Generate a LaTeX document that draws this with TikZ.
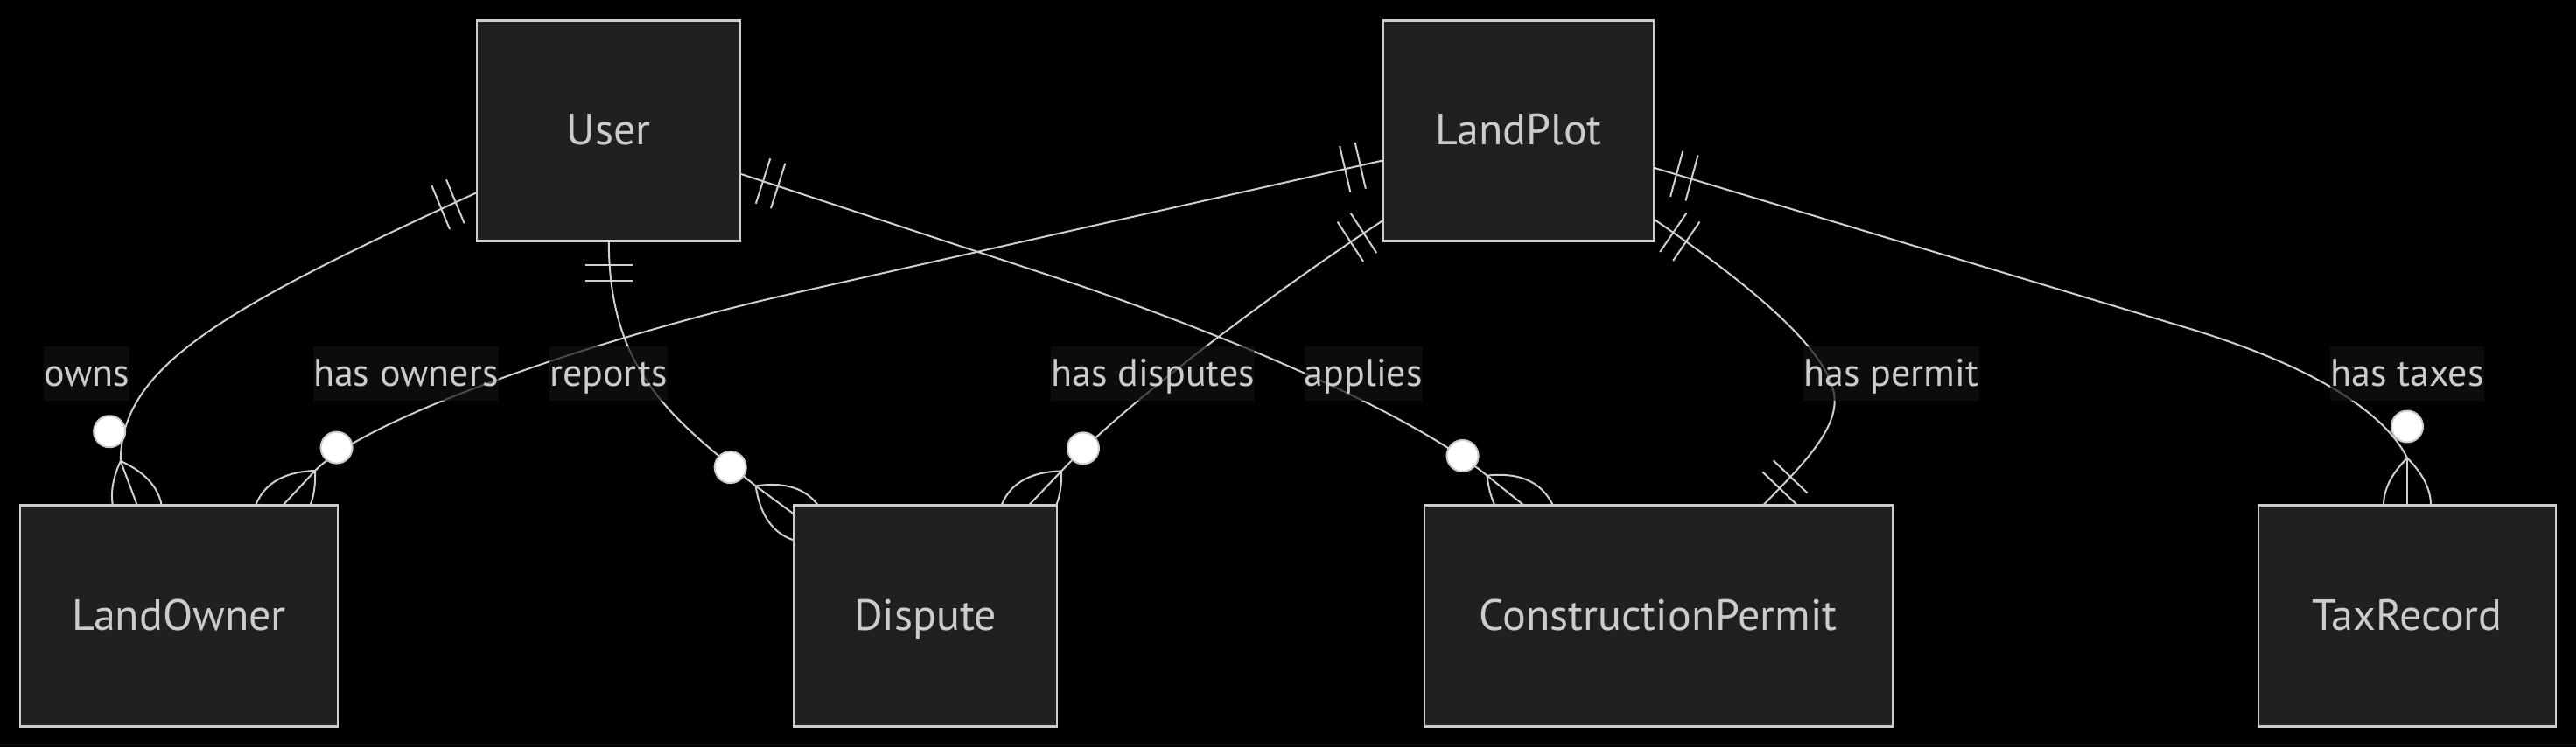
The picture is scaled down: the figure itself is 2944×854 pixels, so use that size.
\documentclass[tikz,border=0pt]{standalone}
\usepackage{fontspec}
\setmainfont{PT Sans}
\usetikzlibrary{calc}
\definecolor{nodefill}{HTML}{1F2020}
\definecolor{nodeborder}{HTML}{CCCCCC}
\definecolor{txt}{HTML}{CCCCCC}
\definecolor{linec}{HTML}{D0D0D0}
\definecolor{lblbg}{HTML}{121212}
\pgfdeclarelayer{bg}
\pgfsetlayers{bg,main}
\tikzset{
  entity/.style={draw=nodeborder, fill=nodefill, line width=2.2pt, text=txt,
    font=\fontsize{50}{60}\selectfont, inner sep=0pt, outer sep=0pt,
    text height=40pt, text depth=8pt},
  rel/.style={fill=lblbg, fill opacity=0.7, text opacity=1, text=txt,
    font=\fontsize{44}{53}\selectfont, inner sep=0pt, minimum height=62pt,
    text height=36pt, text depth=8pt},
  edgeline/.style={draw=linec, line width=2pt},
  zmdot/.style={draw=nodeborder, fill=white, line width=2pt},
  zeromany/.pic={
    \draw[edgeline] (54,0) -- (0,0);
    \draw[edgeline] (54,0) .. controls (18,36) and (-18,36) .. (-54,0);
    \draw[edgeline] (54,0) .. controls (18,-36) and (-18,-36) .. (-54,0);
    \draw[zmdot] (90,0) circle[radius=18pt];
  },
  exactlyone/.pic={
    \draw[edgeline] (27,-27) -- (27,27) (45,-27) -- (45,27);
  },
}
\newcommand\zmAt[2]{\path let \p1=($(#2)-(#1)$), \n1={atan2(\y1,\x1)} in pic[rotate=\n1] at (#1) {zeromany};}
\newcommand\ooAt[2]{\path let \p1=($(#2)-(#1)$), \n1={atan2(\y1,\x1)} in pic[rotate=\n1] at (#1) {exactlyone};}
\begin{document}
\begin{tikzpicture}[x=1pt,y=-1pt]
\useasboundingbox (0,0) rectangle (2944,854);
% entities
\node[entity, minimum width=301pt, minimum height=252pt] (user) at (695.8,149.5) {User};
\node[entity, minimum width=309pt, minimum height=252pt] (landplot) at (1735.6,149.5) {LandPlot};
\node[entity, minimum width=363pt, minimum height=253pt] (landowner) at (204.4,704) {LandOwner};
\node[entity, minimum width=301pt, minimum height=253pt] (dispute) at (1057.6,704) {Dispute};
\node[entity, minimum width=535pt, minimum height=253pt] (permit) at (1895.1,704) {ConstructionPermit};
\node[entity, minimum width=340pt, minimum height=253pt] (tax) at (2751,704) {TaxRecord};
% relationship labels
\node[rel, minimum width=93pt] (lowns) at (99.1,427) {owns};
\node[rel, minimum width=207pt] (lhasowners) at (463.8,427) {has owners};
\node[rel, minimum width=135pt] (lreports) at (695.5,427) {reports};
\node[rel, minimum width=231pt] (lhasdisputes) at (1317.7,427) {has disputes};
\node[rel, minimum width=132pt] (lapplies) at (1558.2,427) {applies};
\node[rel, minimum width=201pt] (lhaspermit) at (2161.1,427) {has permit};
\node[rel, minimum width=174pt] (lhastaxes) at (2750.8,427) {has taxes};
\begin{pgfonlayer}{bg}
\fill[black] (0,0) rectangle (2944,854);
% E1 User -> LandOwner (owns)
\coordinate (S1) at ($(user.west)+(0,70.5)$);
\coordinate (S1d) at ($(S1)+(-92.4,38.1)$);
\coordinate (P1) at ($(landowner.north west)+(133.9,0)$);
\coordinate (P1d) at ($(P1)+(-35.2,-93.7)$);
\coordinate (A1) at ($(P1)!54pt!(P1d)$);
\draw[edgeline] (S1) .. controls (250,355) and (138.5,420) .. (A1);
\ooAt{S1}{S1d}
\zmAt{P1}{P1d}
% E2 LandPlot -> LandOwner (has owners)
\coordinate (S2) at ($(landplot.west)+(0,33.8)$);
\coordinate (S2d) at ($(S2)+(-97.4,22.5)$);
\coordinate (P2) at ($(landowner.north west)+(300.4,0)$);
\coordinate (P2d) at ($(P2)+(68.1,-73.2)$);
\coordinate (A2) at ($(P2)!54pt!(P2d)$);
\draw[edgeline] (S2) -- (900,336.8) .. controls (705.4,380.6) and (423.2,473.5) .. (A2);
\ooAt{S2}{S2d}
\zmAt{P2}{P2d}
% E3 User -> Dispute (reports)
\coordinate (S3) at (user.south);
\coordinate (S3d) at ($(S3)+(0,50)$);
\coordinate (P3) at ($(dispute.north west)+(0,10)$);
\coordinate (P3d) at ($(P3)+(-80.5,-59.3)$);
\coordinate (A3) at ($(P3)!54pt!(P3d)$);
\draw[edgeline] (S3) .. controls (695.8,426) and (770.1,479.7) .. (A3);
\ooAt{S3}{S3d}
\zmAt{P3}{P3d}
% E4 LandPlot -> Dispute (has disputes)
\coordinate (S4) at ($(landplot.west)+(0,102.2)$);
\coordinate (S4d) at ($(S4)+(-83.8,54.6)$);
\coordinate (P4) at ($(dispute.north east)+(-32.2,0)$);
\coordinate (P4d) at ($(P4)+(69,-72.4)$);
\coordinate (A4) at ($(P4)!54pt!(P4d)$);
\draw[edgeline] (S4) .. controls (1472.6,322.7) and (1295.9,451.3) .. (A4);
\ooAt{S4}{S4d}
\zmAt{P4}{P4d}
% E5 User -> ConstructionPermit (applies)
\coordinate (S5) at ($(user.east)+(0,49.3)$);
\coordinate (S5d) at ($(S5)+(95.3,30.4)$);
\coordinate (P5) at ($(permit.north west)+(114,0)$);
\coordinate (P5d) at ($(P5)+(-77.8,-62.8)$);
\coordinate (A5) at ($(P5)!54pt!(P5d)$);
\draw[edgeline] (S5) -- (1200,315) .. controls (1390,377.6) and (1606.1,468) .. (A5);
\ooAt{S5}{S5d}
\zmAt{P5}{P5d}
% E6 LandPlot -> ConstructionPermit (has permit)
\coordinate (S6) at ($(landplot.east)+(0,101)$);
\coordinate (S6d) at ($(S6)+(82.6,56.3)$);
\coordinate (P6) at ($(permit.north west)+(387.5,0)$);
\coordinate (P6d) at ($(P6)+(69,-72)$);
\draw[edgeline] (S6) .. controls (1972.6,306.8) and (2096.7,398) .. (2096.7,458)
  .. controls (2096.7,498) and (2049.5,541.3) .. (P6);
\ooAt{S6}{S6d}
\ooAt{P6}{P6d}
% E7 LandPlot -> TaxRecord (has taxes)
\coordinate (S7) at ($(landplot.east)+(0,42.2)$);
\coordinate (S7d) at ($(S7)+(96.5,26.2)$);
\coordinate (P7) at (tax.north);
\coordinate (P7d) at ($(P7)+(0,-100)$);
\coordinate (A7) at ($(P7)!54pt!(P7d)$);
\draw[edgeline] (S7) -- (2500,375) .. controls (2643.6,418.5) and (2724.9,471) .. (A7);
\ooAt{S7}{S7d}
\zmAt{P7}{P7d}
\end{pgfonlayer}
\end{tikzpicture}
\end{document}
